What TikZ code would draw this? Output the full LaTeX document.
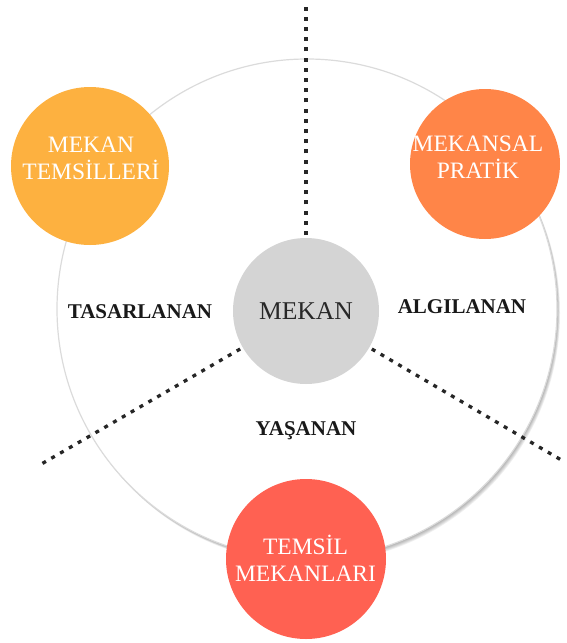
\documentclass[tikz,border=0pt]{standalone}
\usepackage{fontspec}
\setmainfont{Liberation Serif}
\definecolor{cYellow}{RGB}{253,177,64}
\definecolor{cOrange}{RGB}{255,133,72}
\definecolor{cRed}{RGB}{255,97,82}
\definecolor{cHub}{RGB}{212,212,212}
\definecolor{cInk}{RGB}{40,40,40}
\begin{document}
\begin{tikzpicture}[x=1pt,y=-1pt,
  ring/.style={circle, fill=white, draw=black!14, line width=1.2pt, minimum size=500pt, inner sep=0pt},
  hub/.style={circle, fill=cHub, minimum size=146pt, inner sep=0pt, outer sep=3pt,
    text=cInk, font=\fontsize{25.6}{30}\selectfont},
  blob/.style={circle, inner sep=0pt},
  blobtext/.style={align=center, text=white, inner sep=0pt, font=\fontsize{23.5}{27}\selectfont},
  zone/.style={inner sep=0pt, text=black!90, font=\fontsize{21}{24}\selectfont\bfseries},
  divider/.style={line width=3.3pt, dash pattern=on 4pt off 6.2pt, draw=black!85}
]
\useasboundingbox (0,0) rectangle (566,643);

% soft shadow under the large ring, falling to the lower right
\foreach \i in {1,...,6}
  \fill[black, opacity=0.06] (307+0.5*\i, 309+0.7*\i) circle (250pt);
\node[ring] (ring) at (307,309) {};

% central node
\node[hub] (mekan) at (306,311) {MEKAN};

% dividing lines
\coordinate (endT) at (306,6);
\coordinate (endL) at (38,466);
\coordinate (endR) at (563,461);
\draw[divider] (mekan.north) -- (endT);
\draw[divider] (mekan.210) -- (endL);
\draw[divider] (mekan.330) -- (endR);

% zone labels
\node[zone] (tas) at (140,312) {TASARLANAN};
\node[zone] (alg) at (462,307) {ALGILANAN};
\node[zone] (yas) at (306,431) {YAŞANAN};

% outer coloured circles
\node[blob, fill=cYellow, minimum size=158pt] (tl) at (90,166) {};
\node[blobtext] (tlt) at (91,158) {MEKAN\\TEMSİLLERİ};

\node[blob, fill=cOrange, minimum size=150pt] (tr) at (485,164) {};
\node[blobtext] (trt) at (478,157) {MEKANSAL\\PRATİK};

\node[blob, fill=cRed, minimum size=160pt] (bt) at (306,559) {};
\node[blobtext] (btt) at (305.5,558) {TEMSİL\\MEKANLARI};
\end{tikzpicture}
\end{document}
